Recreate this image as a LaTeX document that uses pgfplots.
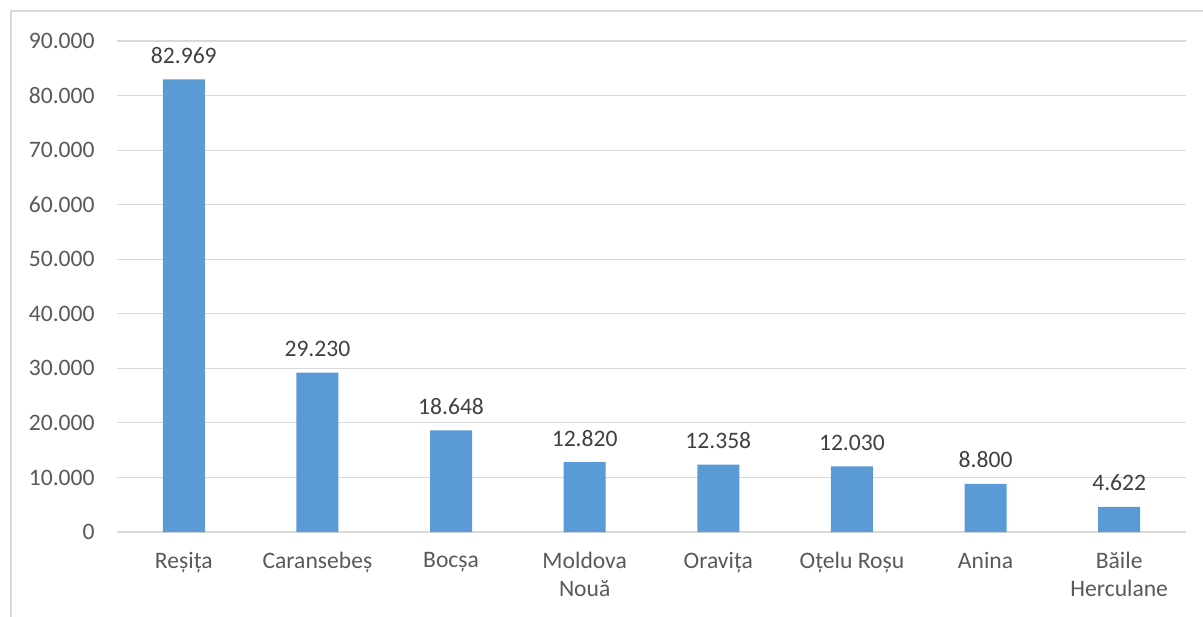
\documentclass[border=0pt]{standalone}
\usepackage{pgfplots}
\pgfplotsset{compat=1.18}
\usepackage{fontspec}
\setmainfont{Carlito}
\definecolor{barblue}{HTML}{5B9BD5}
\definecolor{gridgray}{HTML}{D9D9D9}
\definecolor{txtgray}{HTML}{595959}
\definecolor{lblgray}{HTML}{404040}
\begin{document}
\begin{tikzpicture}[x=1pt,y=1pt]
\useasboundingbox (0,0) rectangle (601.5,308);
\draw[gridgray, line width=0.6pt] (5.5,-5) -- (5.5,302.5) -- (610,302.5);
\begin{axis}[
  at={(58.5pt,42pt)}, anchor=south west,
  scale only axis, width=534.5pt, height=245.5pt,
  ymin=0, ymax=90000, ytick={0,10000,...,90000},
  scaled y ticks=false,
  xmin=-0.5, xmax=7.5,
  xtick={0,...,7},
  xticklabels={Reșița, Caransebeș, Bocșa, {Moldova\\Nouă}, Oravița, {Oțelu Roșu}, Anina, {Băile\\Herculane}},
  font=\fontsize{11.8pt}{14pt}\selectfont,
  xticklabel style={align=center, anchor=north, inner sep=0pt, yshift=-10pt, text=txtgray, font=\fontsize{11.8pt}{14pt}\selectfont},
  yticklabel style={anchor=east, inner sep=0pt, xshift=-11pt, text=txtgray},
  /pgf/number format/.cd, 1000 sep={.}, fixed, assume math mode=true, /pgfplots/.cd,
  axis line style={draw=none},
  major tick length=0pt,
  ymajorgrids, grid style={gridgray, line width=0.6pt},
  axis x line*=bottom,
  ybar, bar width=21pt,
  nodes near coords,
  point meta=explicit symbolic,
  every node near coord/.append style={anchor=base, yshift=8pt, inner sep=0pt, text=lblgray, font=\fontsize{11.8pt}{14pt}\selectfont},
  clip=false,
]
\draw[gridgray, line width=0.8pt] (axis cs:-0.5,0) -- (axis cs:7.5,0);
\addplot[fill=barblue, draw=none] coordinates {
  (0,82969) [82.969]
  (1,29230) [29.230]
  (2,18648) [18.648]
  (3,12820) [12.820]
  (4,12358) [12.358]
  (5,12030) [12.030]
  (6,8800) [8.800]
  (7,4622) [4.622]
};
\end{axis}
\end{tikzpicture}
\end{document}
